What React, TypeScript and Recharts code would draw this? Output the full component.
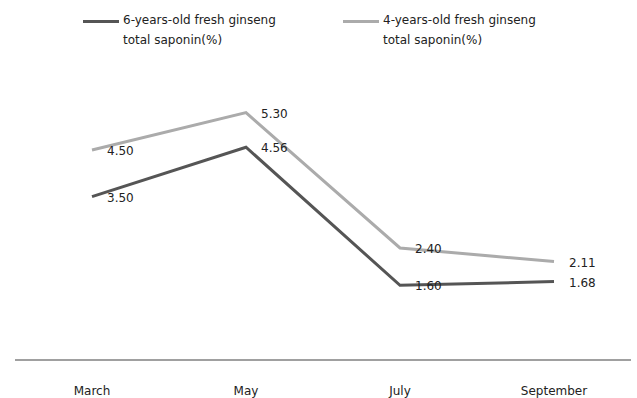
import { LineChart, Line, XAxis, YAxis, LabelList } from 'recharts'

const months = ['March', 'May', 'July', 'September']
const sixYear = [3.5, 4.56, 1.6, 1.68]
const fourYear = [4.5, 5.3, 2.4, 2.11]
const seriesNames = [
  ['6-years-old fresh ginseng', 'total saponin(%)'],
  ['4-years-old fresh ginseng', 'total saponin(%)'],
]

const data = months.map((m, i) => ({ month: m, six: sixYear[i], four: fourYear[i] }))

const FONT = '"DejaVu Sans", Verdana, sans-serif'
const DARK = '#555555'
const LIGHT = '#ababab'

function MonthTick({ x, y, payload }: any) {
  return (
    <text x={x} y={y + 27} textAnchor="middle" fontSize={12} fill="#222" fontFamily={FONT}>
      {payload.value}
    </text>
  )
}

function ValueLabel({ x, y, value }: any) {
  return (
    <text x={x + 15} y={y + 5} fontSize={12} fill="#222" fontFamily={FONT}>
      {Number(value).toFixed(2)}
    </text>
  )
}

function LegendItem({ left, color, lines }: { left: number; color: string; lines: string[] }) {
  return (
    <div style={{ position: 'absolute', left, top: 10, display: 'flex', alignItems: 'flex-start' }}>
      <div style={{ width: 36, height: 3, background: color, marginTop: 10, marginRight: 4 }} />
      <div style={{ fontSize: 12, lineHeight: '20px', color: '#222', fontFamily: FONT }}>
        {lines.map(l => <div key={l}>{l}</div>)}
      </div>
    </div>
  )
}

export default function App() {
  return (
    <div style={{ position: 'absolute', left: 0, top: 0, width: 637, height: 398, background: '#fff' }}>
      <LegendItem left={83} color={DARK} lines={seriesNames[0]} />
      <LegendItem left={343} color={LIGHT} lines={seriesNames[1]} />
      <LineChart width={637} height={398} data={data} margin={{ top: 80, right: 6, bottom: 0, left: 15 }}>
        <XAxis
          dataKey="month"
          scale="band"
          height={38}
          axisLine={{ stroke: '#a0a0a0', strokeWidth: 2 }}
          tickLine={false}
          tick={<MonthTick />}
          interval={0}
        />
        <YAxis hide domain={[0, 6]} />
        <Line dataKey="four" stroke={LIGHT} strokeWidth={3} dot={false} isAnimationActive={false}>
          <LabelList dataKey="four" content={<ValueLabel />} />
        </Line>
        <Line dataKey="six" stroke={DARK} strokeWidth={3} dot={false} isAnimationActive={false}>
          <LabelList dataKey="six" content={<ValueLabel />} />
        </Line>
      </LineChart>
    </div>
  )
}
